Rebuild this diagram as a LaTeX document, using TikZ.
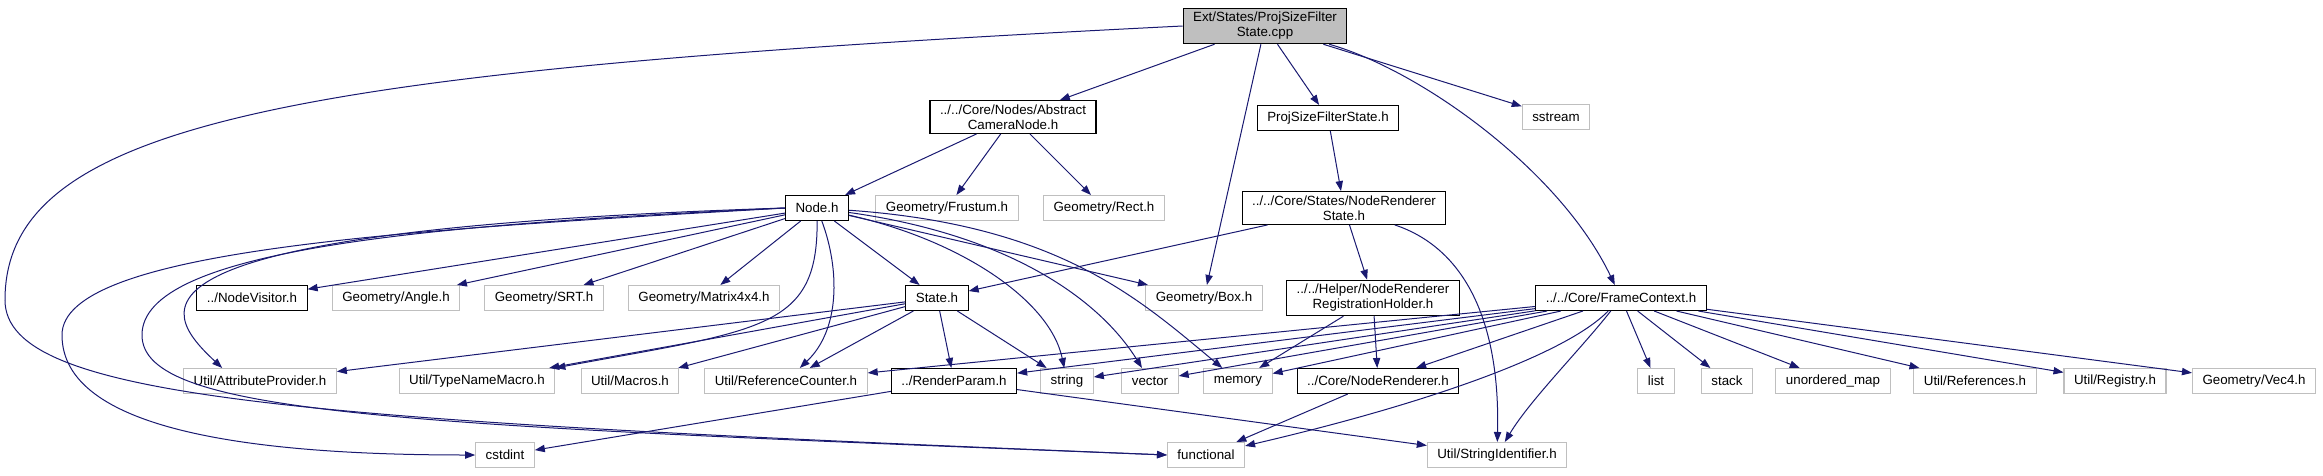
\documentclass[tikz,border=0pt]{standalone}
\usepackage{fontspec}
\setmainfont{Liberation Sans}
\usetikzlibrary{arrows.meta}
\definecolor{edgeblue}{HTML}{191970}
\definecolor{boxgray}{HTML}{BFBFBF}

\begin{document}
\begin{tikzpicture}[
  x = 0.75pt, y = -0.75pt,
  every node/.style = {font=\fontsize{10pt}{11.25pt}\selectfont},
  hdr/.style = {rectangle, draw=black, line width=0.8pt, fill=white,
    align=center, inner xsep=7.5pt, inner ysep=3pt, minimum height=18.75pt},
  sys_hdr/.style  = {hdr, draw=boxgray},
  root_hdr/.style = {hdr, fill=boxgray},
  arr/.style = {-{Triangle[length=7.5pt,width=5.5pt]}, draw=edgeblue, line width=0.75pt}
]
\useasboundingbox (0,0) rectangle (2323,475);

\node[root_hdr] (root)      at (1265,26)  {Ext/States/ProjSizeFilter\\State.cpp};
\node[hdr]      (acn)       at (1013,117) {../../Core/Nodes/Abstract\\CameraNode.h};
\node[hdr]      (psfs)      at (1328,118) {ProjSizeFilterState.h};
\node[sys_hdr]  (sstream)   at (1556,117) {sstream};
\node[hdr]      (node)      at (817,208)  {Node.h};
\node[sys_hdr]  (frustum)   at (947,208)  {Geometry/Frustum.h};
\node[sys_hdr]  (rect)      at (1104,208) {Geometry/Rect.h};
\node[hdr]      (nrs)       at (1344,208) {../../Core/States/NodeRenderer\\State.h};
\node[hdr]      (visitor)   at (252,298)  {../NodeVisitor.h};
\node[sys_hdr]  (angle)     at (396,298)  {Geometry/Angle.h};
\node[sys_hdr]  (srt)       at (544,298)  {Geometry/SRT.h};
\node[sys_hdr]  (matrix)    at (704,298)  {Geometry/Matrix4x4.h};
\node[hdr]      (state)     at (937,298)  {State.h};
\node[sys_hdr]  (box)       at (1204,298) {Geometry/Box.h};
\node[hdr]      (regholder) at (1373,298) {../../Helper/NodeRenderer\\RegistrationHolder.h};
\node[hdr]      (frame)     at (1621,298) {../../Core/FrameContext.h};
\node[sys_hdr]  (attr)      at (260,381)  {Util/AttributeProvider.h};
\node[sys_hdr]  (typename)  at (477,381)  {Util/TypeNameMacro.h};
\node[sys_hdr]  (macros)    at (630,381)  {Util/Macros.h};
\node[sys_hdr]  (refcnt)    at (786,381)  {Util/ReferenceCounter.h};
\node[hdr]      (rparam)    at (954,381)  {../RenderParam.h};
\node[sys_hdr]  (string)    at (1067,381) {string};
\node[sys_hdr]  (vector)    at (1150,381) {vector};
\node[sys_hdr]  (memory)    at (1238,381) {memory};
\node[hdr]      (nrenderer) at (1378,381) {../Core/NodeRenderer.h};
\node[sys_hdr]  (list)      at (1656,381) {list};
\node[sys_hdr]  (stack)     at (1727,381) {stack};
\node[sys_hdr]  (umap)      at (1833,381) {unordered\_map};
\node[sys_hdr]  (refs)      at (1975,381) {Util/References.h};
\node[sys_hdr]  (registry)  at (2115,381) {Util/Registry.h};
\node[sys_hdr]  (vecfour)   at (2254,381) {Geometry/Vec4.h};
\node[sys_hdr]  (cstdint)   at (505,455)  {cstdint};
\node[sys_hdr]  (functional) at (1206,455) {functional};
\node[sys_hdr]  (strid)     at (1497,455) {Util/StringIdentifier.h};

\coordinate (rootbend)  at (5,300);
\coordinate (nodebendA) at (62,335);
\coordinate (nodebendB) at (142,335);

\draw[arr] (root) -- (acn);
\draw[arr] (root) -- (psfs);
\draw[arr] (root) -- (sstream);
\draw[arr] (root) -- (box);
\draw[arr] (root) .. controls (1420,70) and (1560,170) .. (frame);
\draw[arr] (root.west) .. controls (300,70) and (5,120) .. (rootbend)
  .. controls (5,400) and (300,420) .. (functional.west);
\draw[arr] (acn) -- (node);
\draw[arr] (acn) -- (frustum);
\draw[arr] (acn) -- (rect);
\draw[arr] (psfs) -- (nrs);
\draw[arr] (nrs) -- (state);
\draw[arr] (nrs) -- (regholder);
\draw[arr] (nrs) .. controls (1470,250) and (1500,330) .. (strid);
\draw[arr] (node) -- (visitor);
\draw[arr] (node) -- (angle);
\draw[arr] (node) -- (srt);
\draw[arr] (node) -- (matrix);
\draw[arr] (node) -- (state);
\draw[arr] (node) -- (box);
\draw[arr] (node) .. controls (960,240) and (1050,300) .. (string);
\draw[arr] (node) .. controls (1010,235) and (1100,300) .. (vector);
\draw[arr] (node) .. controls (1060,225) and (1140,300) .. (memory);
\draw[arr] (node.west) .. controls (100,230) and (160,310) .. (attr.161);
\draw[arr] (node) .. controls (818,330) and (760,330) .. (typename.north east);
\draw[arr] (node) .. controls (840,270) and (840,330) .. (refcnt);
\draw[arr] (node.west) .. controls (400,230) and (62,250) .. (nodebendA)
  .. controls (62,430) and (250,455) .. (cstdint.west);
\draw[arr] (node.west) .. controls (420,225) and (142,250) .. (nodebendB)
  .. controls (142,415) and (400,425) .. (functional.west);
\draw[arr] (state) -- (attr);
\draw[arr] (state) -- (typename);
\draw[arr] (state) -- (macros);
\draw[arr] (state) -- (refcnt);
\draw[arr] (state) -- (rparam);
\draw[arr] (state) -- (string);
\draw[arr] (regholder) -- (memory);
\draw[arr] (regholder) -- (nrenderer);
\draw[arr] (frame) -- (refcnt);
\draw[arr] (frame) -- (rparam);
\draw[arr] (frame) -- (string);
\draw[arr] (frame) -- (vector);
\draw[arr] (frame) -- (memory);
\draw[arr] (frame) -- (nrenderer);
\draw[arr] (frame) .. controls (1560,360) and (1400,410) .. (functional);
\draw[arr] (frame) .. controls (1580,350) and (1530,400) .. (strid);
\draw[arr] (frame) -- (list);
\draw[arr] (frame) -- (stack);
\draw[arr] (frame) -- (umap);
\draw[arr] (frame) -- (refs);
\draw[arr] (frame) -- (registry);
\draw[arr] (frame) -- (vecfour);
\draw[arr] (rparam) -- (cstdint);
\draw[arr] (rparam) -- (strid);
\draw[arr] (nrenderer) -- (functional);
\end{tikzpicture}
\end{document}
